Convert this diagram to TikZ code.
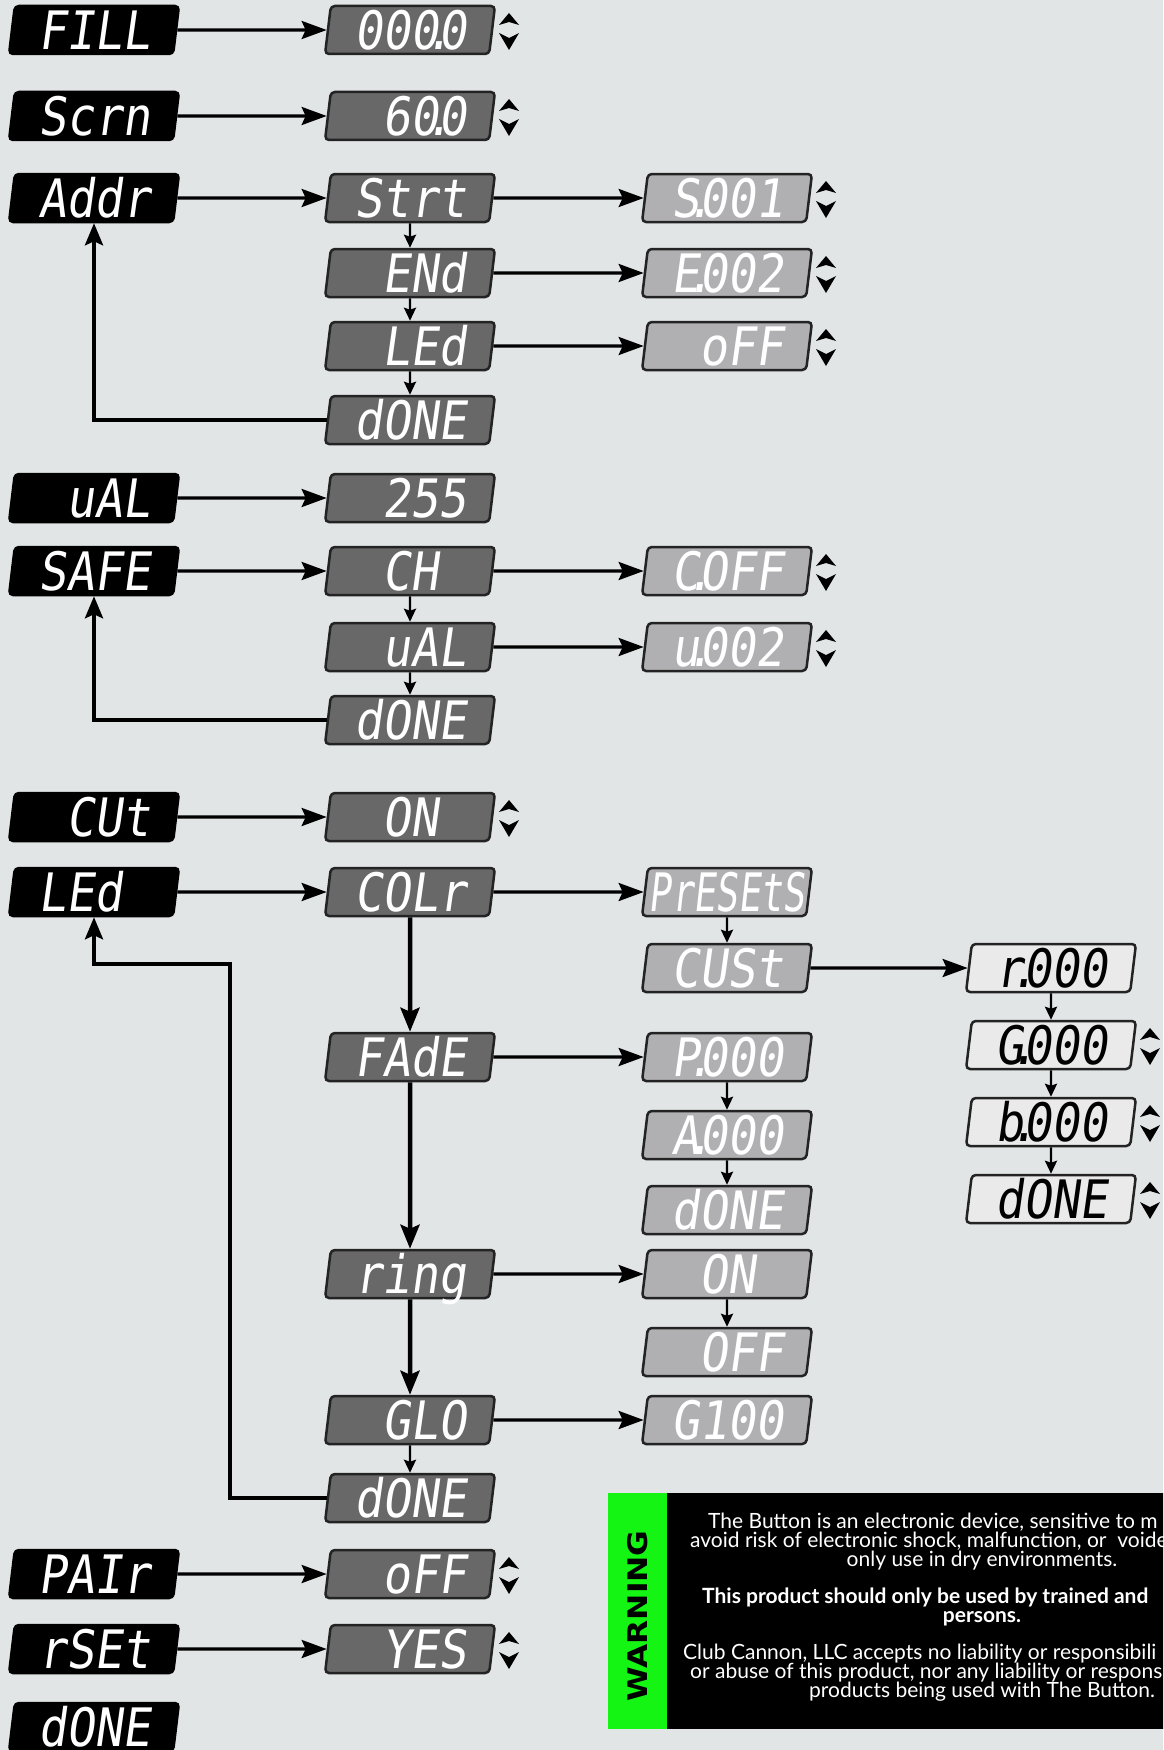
\documentclass[tikz,border=0pt]{standalone}
\usepackage{fontspec}
\usepackage{graphicx}
\usepackage{tikz}
\usetikzlibrary{positioning,calc}
\usetikzlibrary{arrows.meta,shapes.geometric}
\newfontfamily\segfont{DejaVu Sans Mono}[FakeSlant=0.16]
\newfontfamily\warnfont{Lato}
\newfontfamily\warnhead{DejaVu Sans}
\definecolor{PageGray}{RGB}{225,229,230}
\definecolor{DispDark}{RGB}{103,104,103}
\definecolor{DispMid}{RGB}{176,176,178}
\definecolor{DispPale}{RGB}{234,234,234}
\definecolor{EdgeGray}{RGB}{35,35,35}
\definecolor{WarnGreen}{RGB}{20,245,20}
\newcommand{\segdot}{\makebox[0pt][c]{.}}
\newcommand{\seg}[1]{\makebox[112pt][l]{\scalebox{0.88}[1]{#1}}}
\tikzset{
  disp/.style={trapezium,trapezium left angle=84,trapezium right angle=96,
    trapezium stretches=true,minimum width=170pt,minimum height=48pt,inner sep=0pt,
    rounded corners=4pt,line width=2.5pt,text=white,text height=39pt,text depth=0pt,
    font=\segfont\fontsize{53}{53}\selectfont},
  menu/.style={disp,fill=black,draw=black},
  sub/.style={disp,fill=DispDark,draw=EdgeGray},
  opt/.style={disp,fill=DispMid,draw=EdgeGray},
  val/.style={disp,fill=DispPale,draw=EdgeGray,text=black},
  harr/.style={line width=3.2pt,-{Stealth[length=25pt,width=18pt,inset=4pt]}},
  varr/.style={line width=2.4pt,-{Stealth[length=13pt,width=12pt,inset=2pt]}},
  bigvarr/.style={line width=4.5pt,-{Stealth[length=24pt,width=19pt,inset=4pt]}},
  retarr/.style={line width=4pt,-{Stealth[length=22pt,width=18pt,inset=4pt]}},
  warntext/.style={text=white,inner sep=0pt,text height=14pt,text depth=4pt,
    font=\warnfont\fontsize{21}{21}\selectfont},
}

\begin{document}
\begin{tikzpicture}[x=1pt,y=-1pt]
\useasboundingbox (0,0) rectangle (1163,1750);
\clip (0,0) rectangle (1163,1750);
\fill[PageGray] (0,0) rectangle (1163,1750);
% main menu
\node[menu] (fill) at (94,30) {\seg{FILL}};
\node[menu] (scrn) at (94,116) {\seg{Scrn}};
\node[menu] (addr) at (94,198) {\seg{Addr}};
\node[menu] (val) at (94,498) {\seg{~uAL}};
\node[menu] (safe) at (94,571) {\seg{SAFE}};
\node[menu] (cut) at (94,817) {\seg{~CUt}};
\node[menu] (led) at (94,892) {\seg{LEd}};
\node[menu] (pair) at (94,1574) {\seg{PAIr}};
\node[menu] (rset) at (94,1649) {\seg{rSEt}};
\node[menu] (done) at (94,1727) {\seg{dONE}};
% second level
\node[sub] (fillv) at (410,30) {\seg{000\segdot0}};
\node[sub] (scrnv) at (410,116) {\seg{~60\segdot0}};
\node[sub] (strt) at (410,198) {\seg{Strt}};
\node[sub] (endn) at (410,273) {\seg{~ENd}};
\node[sub] (ledadr) at (410,346) {\seg{~LEd}};
\node[sub] (adone) at (410,420) {\seg{dONE}};
\node[sub] (valv) at (410,498) {\seg{~255}};
\node[sub] (ch) at (410,571) {\seg{~CH}};
\node[sub] (safeval) at (410,647) {\seg{~uAL}};
\node[sub] (sdone) at (410,720) {\seg{dONE}};
\node[sub] (cuton) at (410,817) {\seg{~ON}};
\node[sub] (colr) at (410,892) {\seg{COLr}};
\node[sub] (fade) at (410,1057) {\seg{FAdE}};
\node[sub] (ring) at (410,1274) {\seg{ring}};
\node[sub] (glo) at (410,1420) {\seg{~GLO}};
\node[sub] (ldone) at (410,1498) {\seg{dONE}};
\node[sub] (pairv) at (410,1574) {\seg{~oFF}};
\node[sub] (rsetv) at (410,1649) {\seg{~YES}};
% third level
\node[opt] (strtv) at (727,198) {\seg{S\segdot001}};
\node[opt] (endv) at (727,273) {\seg{E\segdot002}};
\node[opt] (ledv) at (727,346) {\seg{~oFF}};
\node[opt] (chv) at (727,571) {\seg{C\segdot OFF}};
\node[opt] (safevalv) at (727,647) {\seg{u\segdot002}};
\node[opt] (presets) at (727,892) {\makebox[112pt][c]{\scalebox{0.7}[1]{PrESEtS}}};
\node[opt] (cust) at (727,968) {\seg{CUSt}};
\node[opt] (fadep) at (727,1057) {\seg{P\segdot000}};
\node[opt] (fadea) at (727,1135) {\seg{A\segdot000}};
\node[opt] (fadedone) at (727,1210) {\seg{dONE}};
\node[opt] (ringon) at (727,1274) {\seg{~ON}};
\node[opt] (ringoff) at (727,1352) {\seg{~OFF}};
\node[opt] (glov) at (727,1420) {\seg{G100}};
% custom colour values
\node[val] (rval) at (1051,968) {\seg{r\segdot000}};
\node[val] (gval) at (1051,1045) {\seg{G\segdot000}};
\node[val] (bval) at (1051,1122) {\seg{b\segdot000}};
\node[val] (cdone) at (1051,1199) {\seg{dONE}};
% horizontal links
\draw[harr] (fill) -- (fillv);
\draw[harr] (scrn) -- (scrnv);
\draw[harr] (addr) -- (strt);
\draw[harr] (strt) -- (strtv);
\draw[harr] (endn) -- (endv);
\draw[harr] (ledadr) -- (ledv);
\draw[harr] (val) -- (valv);
\draw[harr] (safe) -- (ch);
\draw[harr] (ch) -- (chv);
\draw[harr] (safeval) -- (safevalv);
\draw[harr] (cut) -- (cuton);
\draw[harr] (led) -- (colr);
\draw[harr] (colr) -- (presets);
\draw[harr] (cust) -- (rval);
\draw[harr] (fade) -- (fadep);
\draw[harr] (ring) -- (ringon);
\draw[harr] (glo) -- (glov);
\draw[harr] (pair) -- (pairv);
\draw[harr] (rset) -- (rsetv);
% vertical steps
\draw[varr] (strt) -- (endn);
\draw[varr] (endn) -- (ledadr);
\draw[varr] (ledadr) -- (adone);
\draw[varr] (ch) -- (safeval);
\draw[varr] (safeval) -- (sdone);
\draw[varr] (presets) -- (cust);
\draw[varr] (rval) -- (gval);
\draw[varr] (gval) -- (bval);
\draw[varr] (bval) -- (cdone);
\draw[varr] (fadep) -- (fadea);
\draw[varr] (fadea) -- (fadedone);
\draw[varr] (ringon) -- (ringoff);
\draw[varr] (glo) -- (ldone);
\draw[bigvarr] (colr) -- (fade);
\draw[bigvarr] (fade) -- (ring);
\draw[bigvarr] (ring) -- (glo);
% returns
\coordinate (lbend) at (230,964);
\draw[retarr] (adone) -| (addr);
\draw[retarr] (sdone) -| (safe);
\draw[retarr] (ldone) -| (lbend) -| (led);
% up/down markers
\foreach \n in {fillv,scrnv,strtv,endv,ledv,chv,safevalv,cuton,gval,bval,cdone,pairv,rsetv}{
  \fill (\n) ++(89,-5) -- ++(10,-12) -- ++(10,12) -- ++(-10,-3) -- cycle;
  \fill (\n) ++(89,3) -- ++(10,5) -- ++(10,-5) -- ++(-10,17) -- cycle;
}
% warning label
\fill[black] (608,1493) rectangle (1170,1729);
\fill[WarnGreen] (608,1493) rectangle (667,1729);
\node[rotate=90,inner sep=0pt,font=\warnhead\bfseries\fontsize{27}{27}\selectfont] (warnword) at (638,1616) {\scalebox{1.16}[1]{WARNING}};
\node[warntext,anchor=west] (w1) at (708,1523) {The Button is an electronic device, sensitive to m};
\node[warntext,anchor=west] (w2) at (690,1542) {avoid risk of electronic shock, malfunction, or\ \ voide};
\node[warntext] (w3) at (982,1561) {only use in dry environments.};
\node[warntext,anchor=west,font=\warnfont\bfseries\fontsize{21}{21}\selectfont] (w4) at (702,1598) {This product should only be used by trained and};
\node[warntext,font=\warnfont\bfseries\fontsize{21}{21}\selectfont] (w5) at (982,1617) {persons.};
\node[warntext,anchor=west] (w6) at (683,1654) {Club Cannon, LLC accepts no liability or responsibili};
\node[warntext,anchor=west] (w7) at (690,1673) {or abuse of this product, nor any liability or respons};
\node[warntext] (w8) at (982,1692) {products being used with The Button.};
\end{tikzpicture}
\end{document}
